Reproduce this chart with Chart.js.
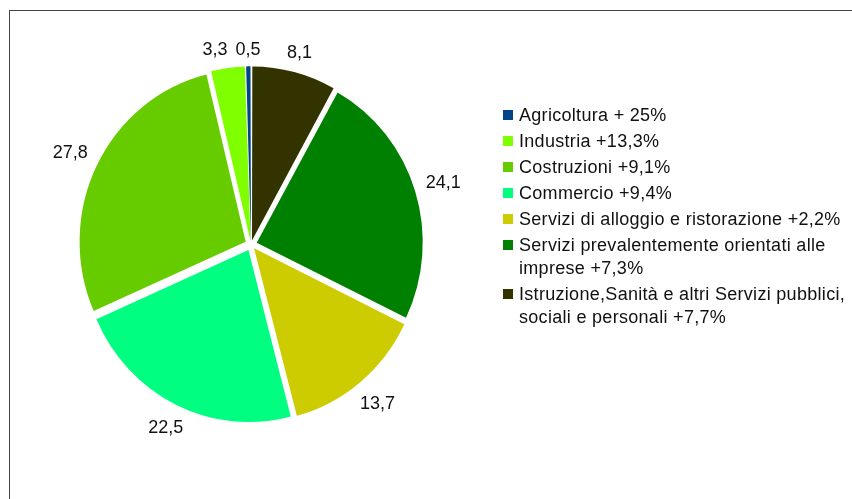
<!DOCTYPE html>
<html>
<head>
<meta charset="utf-8">
<script src="https://cdn.jsdelivr.net/npm/chart.js@4.4.1/dist/chart.umd.min.js"></script>
<style>
  html, body { margin: 0; padding: 0; background: #fff; }
  #wrap { position: relative; width: 852px; height: 499px; overflow: hidden; }
  #frame {
    position: absolute; left: 9px; top: 10px; right: 0; bottom: 0;
    border-top: 1px solid #444; border-left: 1px solid #444;
  }
  #pie { position: absolute; left: 0; top: 0; }
  #legend {
    position: absolute; left: 503px; top: 104px;
    font-family: "Liberation Sans", Arial, sans-serif;
    font-size: 18px; letter-spacing: 0.3px; color: #111;
  }
  .item { position: relative; padding-left: 16px; margin-bottom: 3px; line-height: 23px; white-space: nowrap; }
  .item span.box { position: absolute; left: 0; top: 6px; width: 10px; height: 10px; }
</style>
</head>
<body>
<div id="wrap">
  <div id="frame"></div>
  <canvas id="pie" width="852" height="499"></canvas>
  <div id="legend"></div>
</div>
<script>
// legend order (as in the original chart)
const sectors = [
  ["Agricoltura + 25%"],
  ["Industria +13,3%"],
  ["Costruzioni +9,1%"],
  ["Commercio +9,4%"],
  ["Servizi di alloggio e ristorazione +2,2%"],
  ["Servizi prevalentemente orientati alle", "imprese +7,3%"],
  ["Istruzione,Sanità e altri Servizi pubblici,", "sociali e personali +7,7%"]
];
const shares = [0.5, 3.3, 27.8, 22.5, 13.7, 24.1, 8.1];
const valueLabels = ["0,5", "3,3", "27,8", "22,5", "13,7", "24,1", "8,1"];
const colors = ["#004586", "#80ff00", "#66cc00", "#00ff80", "#cccc00", "#008000", "#333300"];

// the original runs counter-clockwise from 12 o'clock, Chart.js draws clockwise
const chartLabels = sectors.map(s => s.join(" ")).reverse();
const chartValues = shares.slice().reverse();
const chartText = valueLabels.slice().reverse();
const chartColors = colors.slice().reverse();

const total = shares.reduce((a, b) => a + b, 0);
const explode = 6;    // px each slice is pulled out
const stretchY = 1.036; // the original pie is a bit taller than wide

// === HTML legend ===
const legendEl = document.getElementById("legend");
sectors.forEach((lines, i) => {
  const div = document.createElement("div");
  div.className = "item";
  const box = document.createElement("span");
  box.className = "box";
  box.style.background = colors[i];
  div.appendChild(box);
  lines.forEach((t, j) => {
    if (j > 0) div.appendChild(document.createElement("br"));
    div.appendChild(document.createTextNode(t));
  });
  legendEl.appendChild(div);
});

// === slight vertical stretch of the pie ===
const stretch = {
  id: "stretch",
  beforeDatasetDraw(chart) {
    const a = chart.chartArea;
    const cy = (a.top + a.bottom) / 2;
    chart.ctx.save();
    chart.ctx.translate(0, cy);
    chart.ctx.scale(1, stretchY);
    chart.ctx.translate(0, -cy);
  },
  afterDatasetDraw(chart) {
    chart.ctx.restore();
  }
};

// === value labels outside the slices ===
const sliceLabels = {
  id: "sliceLabels",
  afterDatasetsDraw(chart) {
    const ctx = chart.ctx;
    const meta = chart.getDatasetMeta(0);
    ctx.save();
    ctx.font = '18px "Liberation Sans", Arial, sans-serif';
    ctx.fillStyle = "#111";
    ctx.textAlign = "center";
    ctx.textBaseline = "middle";
    const h = 13;
    const boxes = meta.data.map((arc, i) => {
      const p = arc.getProps(["x", "y", "startAngle", "endAngle", "outerRadius"], true);
      const mid = (p.startAngle + p.endAngle) / 2;
      const c = Math.cos(mid), s = Math.sin(mid);
      const w = ctx.measureText(chartText[i]).width;
      const edge = p.outerRadius + explode;
      const extra = 11 + Math.abs(c) * w / 2 + Math.abs(s) * h / 2;
      return { i, c, w, x: p.x + c * (edge + extra), y: p.y + s * (edge * stretchY + extra) };
    });
    // place in legend order, pushing sideways when two labels collide
    const placed = [];
    boxes.slice().reverse().forEach(b => {
      placed.forEach(o => {
        const overlapY = Math.abs(b.y - o.y) < h + 4;
        const overlapX = Math.abs(b.x - o.x) < (b.w + o.w) / 2 + 8;
        if (overlapY && overlapX) {
          const dir = b.c < 0 ? -1 : 1;
          b.x = o.x + dir * ((b.w + o.w) / 2 + 8);
        }
      });
      placed.push(b);
    });
    boxes.forEach(b => ctx.fillText(chartText[b.i], b.x, b.y + 1));
    ctx.restore();
  }
};

new Chart(document.getElementById("pie"), {
  type: "pie",
  data: {
    labels: chartLabels,
    datasets: [{
      data: chartValues,
      backgroundColor: chartColors,
      borderWidth: 0,
      radius: 166,
      // Chart.js moves an arc by offset/4 * (2 - sin(angle)); keep the pull-out even
      offset: (c) => {
        const circ = Math.min(Math.PI, chartValues[c.dataIndex] / total * 2 * Math.PI);
        const fix = 1 - Math.sin(circ);
        return 4 * explode / (1 + fix);
      }
    }]
  },
  options: {
    responsive: false,
    animation: false,
    layout: { padding: { left: 80, top: 74, right: 430, bottom: 84 } },
    plugins: {
      legend: { display: false },
      tooltip: { enabled: false }
    }
  },
  plugins: [stretch, sliceLabels]
});
</script>
</body>
</html>
